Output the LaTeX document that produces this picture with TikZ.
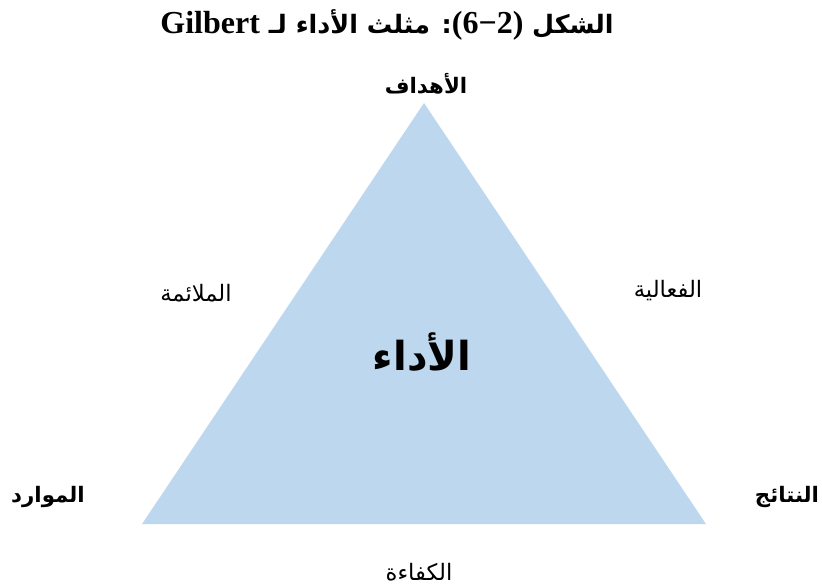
\documentclass[tikz,border=0pt]{standalone}
\usepackage{fontspec}
\setmainfont{Liberation Serif}
\newfontfamily\arabicfont[Script=Arabic]{DejaVu Sans}
\TeXXeTstate=1
\definecolor{triFill}{HTML}{BDD7EE}
\begin{document}
\begin{tikzpicture}[
  x=0.75pt,y=-0.75pt,
  corner/.style={font=\arabicfont\bfseries\fontsize{16}{18}\selectfont, inner sep=0pt},
  side/.style={font=\arabicfont\fontsize{17}{19}\selectfont, inner sep=0pt},
  centre/.style={font=\arabicfont\bfseries\fontsize{30}{34}\selectfont, inner sep=0pt},
  caption/.style={font=\bfseries\fontsize{24}{28}\selectfont, inner sep=0pt}
]
\useasboundingbox (0,0) rectangle (822,587);
% triangle
\coordinate (apex) at (424,103);
\coordinate (baseL) at (142,524);
\coordinate (baseR) at (706,524);
\fill[triFill] (apex) -- (baseL) -- (baseR) -- cycle;
% title
\node[caption] (title) at (387,25)
  {\arabicfont\fontsize{19}{24}\selectfont\beginR الشكل \beginL{\rmfamily\fontsize{24}{28}\selectfont(6−2)}\endL: مثلث الأداء لـ \beginL{\rmfamily\fontsize{24}{28}\selectfont Gilbert}\endL\endR};
% corners
\node[corner] (goals) at (426,84) {\beginR الأهداف\endR};
\node[corner] (resources) at (48,497) {\beginR الموارد\endR};
\node[corner] (results) at (787,497) {\beginR النتائج\endR};
% sides
\node[side] (relevance) at (196,293) {\beginR الملائمة\endR};
\node[side] (effectiveness) at (668,291) {\beginR الفعالية\endR};
\node[side] (efficiency) at (419,572) {\beginR الكفاءة\endR};
% centre
\node[centre] (perf) at (422,352) {\beginR الأداء\endR};
\end{tikzpicture}
\end{document}
